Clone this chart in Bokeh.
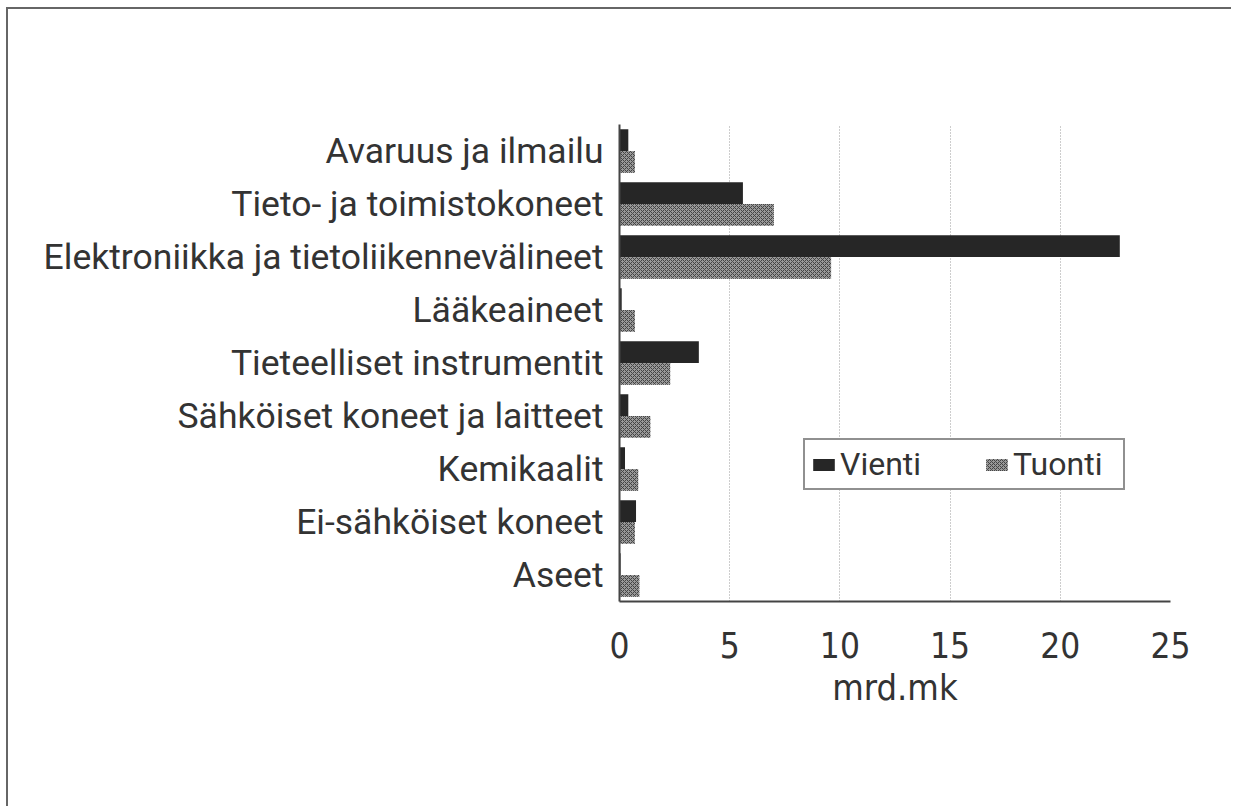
from bokeh.plotting import figure
from bokeh.layouts import column
from bokeh.models import Range1d, FactorRange, Legend, LegendItem, ColumnDataSource
from bokeh.transform import dodge
from bokeh.embed import file_html
from bokeh.resources import INLINE

categories = [
    "Avaruus ja ilmailu",
    "Tieto- ja toimistokoneet",
    "Elektroniikka ja tietoliikennevälineet",
    "Lääkeaineet",
    "Tieteelliset instrumentit",
    "Sähköiset koneet ja laitteet",
    "Kemikaalit",
    "Ei-sähköiset koneet",
    "Aseet",
]
vienti = [0.4, 5.6, 22.7, 0.1, 3.6, 0.4, 0.25, 0.75, 0.05]
tuonti = [0.7, 7.0, 9.6, 0.7, 2.3, 1.4, 0.85, 0.7, 0.9]
series_names = ["Vienti", "Tuonti"]
x_ticks = [0, 5, 10, 15, 20, 25]
x_label = "mrd.mk"

src = ColumnDataSource(dict(cat=categories, vienti=vienti, tuonti=tuonti))

COND = "'DejaVu Sans Condensed', 'Liberation Sans Narrow', Roboto"

p = figure(
    width=1225, height=799,
    x_range=Range1d(0, 25),
    y_range=FactorRange(factors=categories[::-1], range_padding=0),
    output_backend="svg", toolbar_location=None,
    min_border_left=611, min_border_right=63,
    min_border_top=115, min_border_bottom=207,
)
p.outline_line_color = None
p.background_fill_color = "white"
p.border_fill_color = "white"

r1 = p.hbar(y=dodge("cat", 0.205, range=p.y_range), left=0, right="vienti",
            height=0.41, source=src, fill_color="#262626", line_color=None)
r2 = p.hbar(y=dodge("cat", -0.205, range=p.y_range), left=0, right="tuonti",
            height=0.41, source=src, fill_color="#999999", line_color=None,
            hatch_pattern="diagonal_cross", hatch_scale=4, hatch_weight=1,
            hatch_color="#444444")

# grid
p.ygrid.grid_line_color = None
p.xgrid.ticker = x_ticks
p.xgrid.grid_line_color = "#9a9a9a"
p.xgrid.grid_line_dash = "1 2"
p.xgrid.grid_line_width = 1

# x axis
p.xaxis.ticker = x_ticks
p.xaxis.axis_label = x_label
p.xaxis.axis_line_width = 2
p.xaxis.axis_line_color = "#444444"
p.xaxis.major_tick_line_color = None
p.xaxis.minor_tick_line_color = None
p.xaxis.major_label_text_font = COND
p.xaxis.major_label_text_font_size = "35px"
p.xaxis.major_label_text_color = "#333333"
p.xaxis.major_label_standoff = 24
p.xaxis.axis_label_text_font = COND
p.xaxis.axis_label_text_font_style = "normal"
p.xaxis.axis_label_text_font_size = "36px"
p.xaxis.axis_label_text_color = "#333333"
p.xaxis.axis_label_standoff = 6

# y axis
p.yaxis.axis_line_width = 2
p.yaxis.axis_line_color = "#444444"
p.yaxis.major_tick_line_color = None
p.yaxis.minor_tick_line_color = None
p.yaxis.major_label_text_font = "Roboto"
p.yaxis.major_label_text_font_size = "35.5px"
p.yaxis.major_label_text_color = "#333333"
p.yaxis.major_label_standoff = 10

legend = Legend(
    items=[LegendItem(label=series_names[0], renderers=[r1]),
           LegendItem(label=series_names[1], renderers=[r2])],
    orientation="horizontal",
    location=(184, 111),
    padding=5, margin=0, spacing=38,
    glyph_width=27, glyph_height=15, label_standoff=3, label_width=105,
    label_text_font="Roboto", label_text_font_size="32px",
    label_text_color="#333333",
    border_line_color="#222222", border_line_width=2,
    background_fill_color="white", background_fill_alpha=1,
)
p.add_layout(legend, "center")

# outer page frame: only the top and left edges are visible in the original
layout = column(p, styles={
    "margin-left": "8px", "margin-top": "9px",
    "box-shadow": "-2px -2px 0px 0px #666666",
})

open("out.html", "w").write(file_html(layout, INLINE))
